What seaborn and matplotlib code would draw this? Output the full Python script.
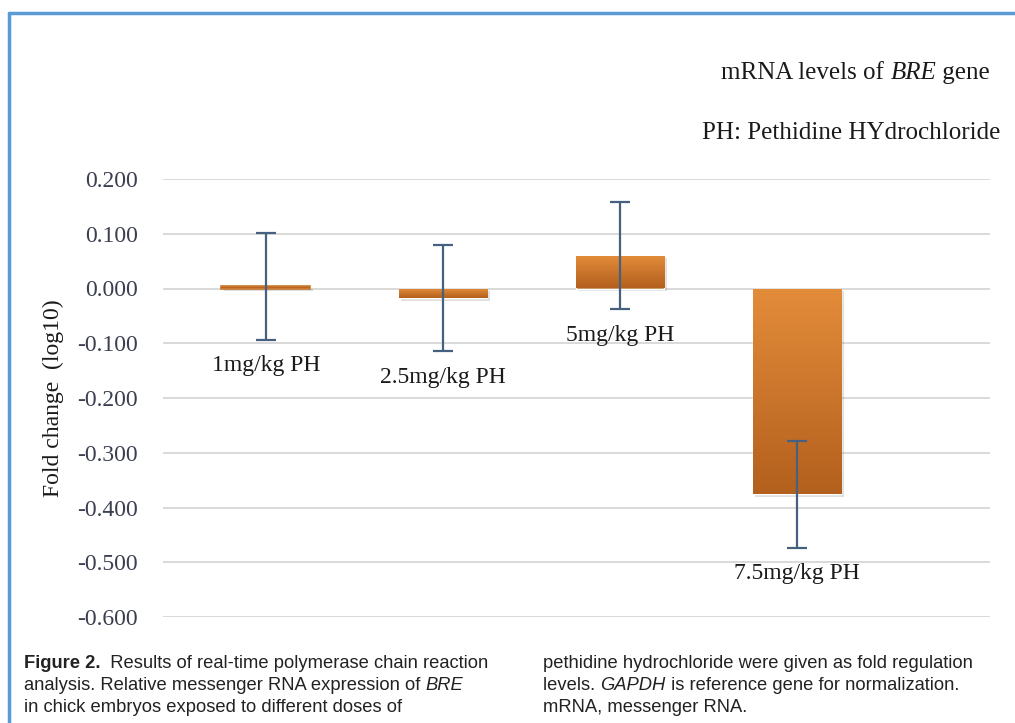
import numpy as np
import pandas as pd
import matplotlib
matplotlib.use("Agg")
import matplotlib.pyplot as plt
from matplotlib.colors import LinearSegmentedColormap
import seaborn as sns

# ---- data ----
doses = ["1mg/kg PH", "2.5mg/kg PH", "5mg/kg PH", "7.5mg/kg PH"]
fold_change = [0.004, -0.018, 0.060, -0.376]
fold_err = [0.098, 0.097, 0.098, 0.098]
y_ticks = [0.2, 0.1, 0.0, -0.1, -0.2, -0.3, -0.4, -0.5, -0.6]

df = pd.DataFrame({"dose": doses, "fc": fold_change, "err": fold_err})

sns.set_theme(style="white")
serif = "Liberation Serif"
cap_font = "Liberation Sans"
plt.rcParams["font.family"] = [serif, "DejaVu Serif"]

W, H = 1015, 723
fig = plt.figure(figsize=(W / 100, H / 100), dpi=100)
fig.patch.set_facecolor("white")
ax = fig.add_axes([163 / W, 1 - 617 / H, (990 - 163) / W, (617 - 179) / H])

sns.barplot(data=df, x="dose", y="fc", color="#d47f2e", width=0.5,
            errorbar=None, ax=ax, zorder=3)

# vertical orange gradient inside each bar, plus a soft drop shadow
cmap = LinearSegmentedColormap.from_list("amber", ["#e38c3a", "#b3601e"])
for p in ax.patches:
    x0, y0 = p.get_x(), p.get_y()
    w, h = p.get_width(), p.get_height()
    lo, hi = min(y0, y0 + h), max(y0, y0 + h)
    grad = np.linspace(0, 1, 256).reshape(-1, 1)
    im = ax.imshow(grad, cmap=cmap, aspect="auto", extent=(x0, x0 + w, lo, hi),
                   origin="upper", zorder=3.1)
    im.set_clip_path(p)
    shadow = plt.Rectangle((x0 + 0.015, lo - 0.004), w, hi - lo, color="#000000",
                           alpha=0.12, zorder=2.9, lw=0)
    ax.add_patch(shadow)
    if hi - lo < 0.006:
        p.set_edgecolor("#c97a30")
        p.set_linewidth(1.2)

ax.errorbar(x=np.arange(len(doses)), y=df["fc"], yerr=df["err"], fmt="none",
            ecolor="#45617f", elinewidth=1.6, capsize=7, capthick=1.6, zorder=5)

# category names placed below each error bar
for i, (v, e, name) in enumerate(zip(df["fc"], df["err"], doses)):
    ax.annotate(name, xy=(i, v - e), xytext=(0, -11), textcoords="offset points",
                ha="center", va="top", fontsize=17, color="#1a1a1a", zorder=6)

ax.set_xlim(-0.58, 4.09)
ax.set_ylim(-0.6, 0.2)
ax.set_yticks(y_ticks)
ax.set_yticklabels([f"{t:.3f}" for t in y_ticks], fontsize=17, color="#3a3f4f")
ax.set_xticks([])
ax.set_xlabel("")
ax.set_ylabel("Fold change  (log10)", fontsize=17, color="#1a1a1a")
ax.tick_params(axis="y", length=0, pad=18)
ax.grid(axis="y", color="#d9d9d9", lw=1.4, zorder=0)
ax.set_axisbelow(True)
for s in ax.spines.values():
    s.set_visible(False)
ax.set_facecolor("white")
ax.yaxis.set_label_coords(-0.12, 0.5)

fig.canvas.draw()
renderer = fig.canvas.get_renderer()


def runs(x_px, y_px, pieces, size, family, color="#1a1a1a"):
    """Draw consecutive text runs left to right starting at pixel (x_px, y_px)."""
    x = x_px
    for txt, kw in pieces:
        t = fig.text(x / W, 1 - y_px / H, txt, fontsize=size, family=family,
                     color=color, va="center", ha="left", **kw)
        bb = t.get_window_extent(renderer)
        x += bb.width
    return x


def width_of(pieces, size, family):
    tot = 0
    for txt, kw in pieces:
        t = fig.text(0, 0, txt, fontsize=size, family=family, **kw)
        tot += t.get_window_extent(renderer).width
        t.remove()
    return tot


title1 = [("mRNA levels of ", {}), ("BRE", {"style": "italic"}), (" gene", {})]
title2 = [("PH: Pethidine HYdrochloride", {})]
w1 = width_of(title1, 18, serif)
w2 = width_of(title2, 18, serif)
runs(990 - w1, 73, title1, 18, serif)
runs(1000 - w2, 133, title2, 18, serif)

# caption, two columns
cs = 13.2
col1 = [
    [("Figure 2.", {"weight": "bold"}), ("  Results of real-time polymerase chain reaction", {})],
    [("analysis. Relative messenger RNA expression of ", {}), ("BRE", {"style": "italic"})],
    [("in chick embryos exposed to different doses of", {})],
]
col2 = [
    [("pethidine hydrochloride were given as fold regulation", {})],
    [("levels. ", {}), ("GAPDH", {"style": "italic"}), (" is reference gene for normalization.", {})],
    [("mRNA, messenger RNA.", {})],
]
for k, line in enumerate(col1):
    runs(24, 663 + 22 * k, line, cs, cap_font, color="#222222")
for k, line in enumerate(col2):
    runs(543, 663 + 22 * k, line, cs, cap_font, color="#222222")

# blue frame (left and top edges)
frame_col = "#5b9bd5"
fig.add_artist(plt.Line2D([8.5 / W, 8.5 / W], [0, 1 - 13 / H], color=frame_col, lw=2.5,
                          transform=fig.transFigure))
fig.add_artist(plt.Line2D([8.5 / W, 1], [1 - 13 / H, 1 - 13 / H], color=frame_col, lw=2.5,
                          transform=fig.transFigure))

fig.savefig("out.png", dpi=100, facecolor="white")
